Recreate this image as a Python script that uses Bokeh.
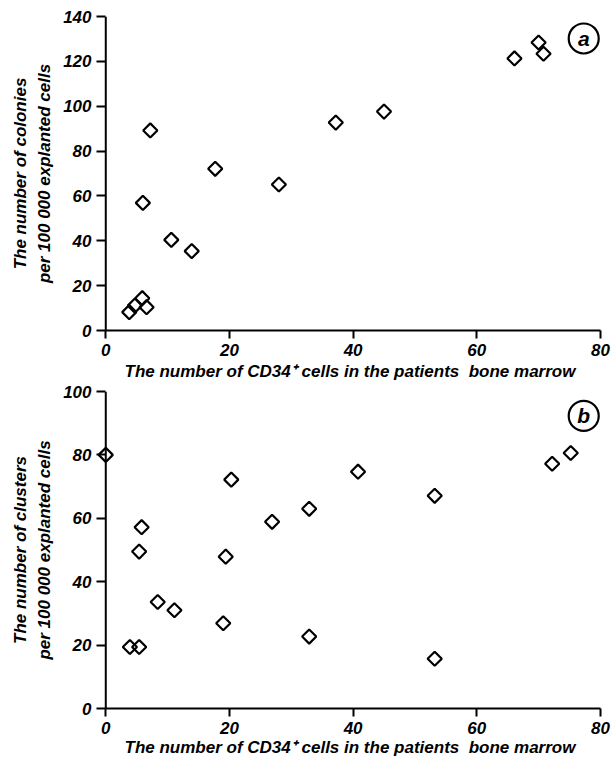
import numpy as np
from bokeh.plotting import figure
from bokeh.layouts import column
from bokeh.models import Range1d, FixedTicker, Span
from bokeh.core.properties import value
from bokeh.embed import file_html
from bokeh.resources import INLINE

# ---- data ----
colonies_x = [3.8, 4.7, 5.9, 6.6, 6.0, 7.2, 10.6, 13.9, 17.7, 28.0, 37.2, 45.0, 66.1, 70.0, 70.8]
colonies_y = [8.2, 11.1, 14.4, 10.4, 56.9, 89.2, 40.4, 35.4, 72.1, 65.1, 92.7, 97.6, 121.3, 128.4, 123.4]

clusters_x = [0.0, 20.3, 5.8, 5.4, 19.4, 26.9, 8.4, 11.1, 19.0, 3.9, 5.4, 32.9, 32.9, 40.8, 53.2, 53.2, 72.2, 75.2]
clusters_y = [80.0, 72.2, 57.2, 49.5, 47.9, 58.9, 33.6, 31.0, 26.9, 19.4, 19.4, 63.0, 22.7, 74.7, 67.1, 15.7, 77.2, 80.6]

x_ticks = [0, 20, 40, 60, 80]
colonies_ticks = [0, 20, 40, 60, 80, 100, 120, 140]
clusters_ticks = [0, 20, 40, 60, 80, 100]

x_title = "The number of CD34\u207a cells in the patients\u00a0 bone marrow"
colonies_title = "The number of colonies\nper 100 000 explanted cells"
clusters_title = "The number of clusters\nper 100 000 explanted cells"

panel_letters = ["a", "b"]
letter_x = [77.3, 77.3]
letter_y = [130.2, 92.3]

FONT = "Liberation Sans"
FSIZE = "17px"


def make_panel(xs, ys, y_end, yticks, ytitle, frame_h, top_border,
               lab_standoff, title_standoff, letter, lx, ly):
    p = figure(frame_width=507, frame_height=frame_h,
               x_range=Range1d(-1.5, 80.5), y_range=Range1d(0, y_end),
               output_backend="svg", toolbar_location=None,
               min_border_left=96, min_border_right=8,
               min_border_top=top_border, min_border_bottom=0)
    p.outline_line_color = None
    p.grid.visible = False
    p.background_fill_color = "white"
    p.border_fill_color = "white"

    p.scatter(xs, ys, marker="square", size=10, angle=np.pi / 4,
              fill_color=None, line_color="black", line_width=2.2)

    p.scatter([lx], [ly], marker="circle", size=30, fill_color=None,
              line_color="black", line_width=2.2)
    p.text([lx], [ly], text=[letter], text_align="center", text_baseline="middle",
           text_font=value(FONT), text_font_style="bold italic",
           text_font_size="21px", text_color="black")

    p.add_layout(Span(location=0, dimension="height", line_color="black", line_width=2))

    xa = p.xaxis[0]
    xa.ticker = FixedTicker(ticks=x_ticks)
    xa.bounds = (0, 80)
    xa.axis_line_width = 2
    xa.axis_line_color = "black"
    xa.major_tick_out = 8
    xa.major_tick_in = 0
    xa.major_tick_line_width = 2
    xa.minor_tick_line_color = None
    xa.major_label_standoff = lab_standoff
    xa.axis_label = x_title
    xa.axis_label_standoff = title_standoff

    ya = p.yaxis[0]
    ya.ticker = FixedTicker(ticks=yticks)
    ya.axis_line_color = None
    ya.major_tick_out = 0
    ya.major_tick_in = 9
    ya.major_tick_line_width = 2
    ya.minor_tick_line_color = None
    ya.major_label_standoff = 5
    ya.axis_label = ytitle
    ya.axis_label_standoff = 6
    ya.axis_label_text_line_height = 1.25

    for ax in (xa, ya):
        ax.major_label_text_font = FONT
        ax.major_label_text_font_style = "bold italic"
        ax.major_label_text_font_size = FSIZE
        ax.major_label_text_color = "black"
        ax.axis_label_text_font = FONT
        ax.axis_label_text_font_style = "bold italic"
        ax.axis_label_text_font_size = FSIZE
        ax.axis_label_text_color = "black"
    return p


top = make_panel(colonies_x, colonies_y, 140, colonies_ticks, colonies_title,
                 314, 16, 5, 3, panel_letters[0], letter_x[0], letter_y[0])
bottom = make_panel(clusters_x, clusters_y, 100, clusters_ticks, clusters_title,
                    317, 8, 5, 1, panel_letters[1], letter_x[1], letter_y[1])

layout = column(top, bottom)
open("out.html", "w").write(file_html(layout, INLINE))
